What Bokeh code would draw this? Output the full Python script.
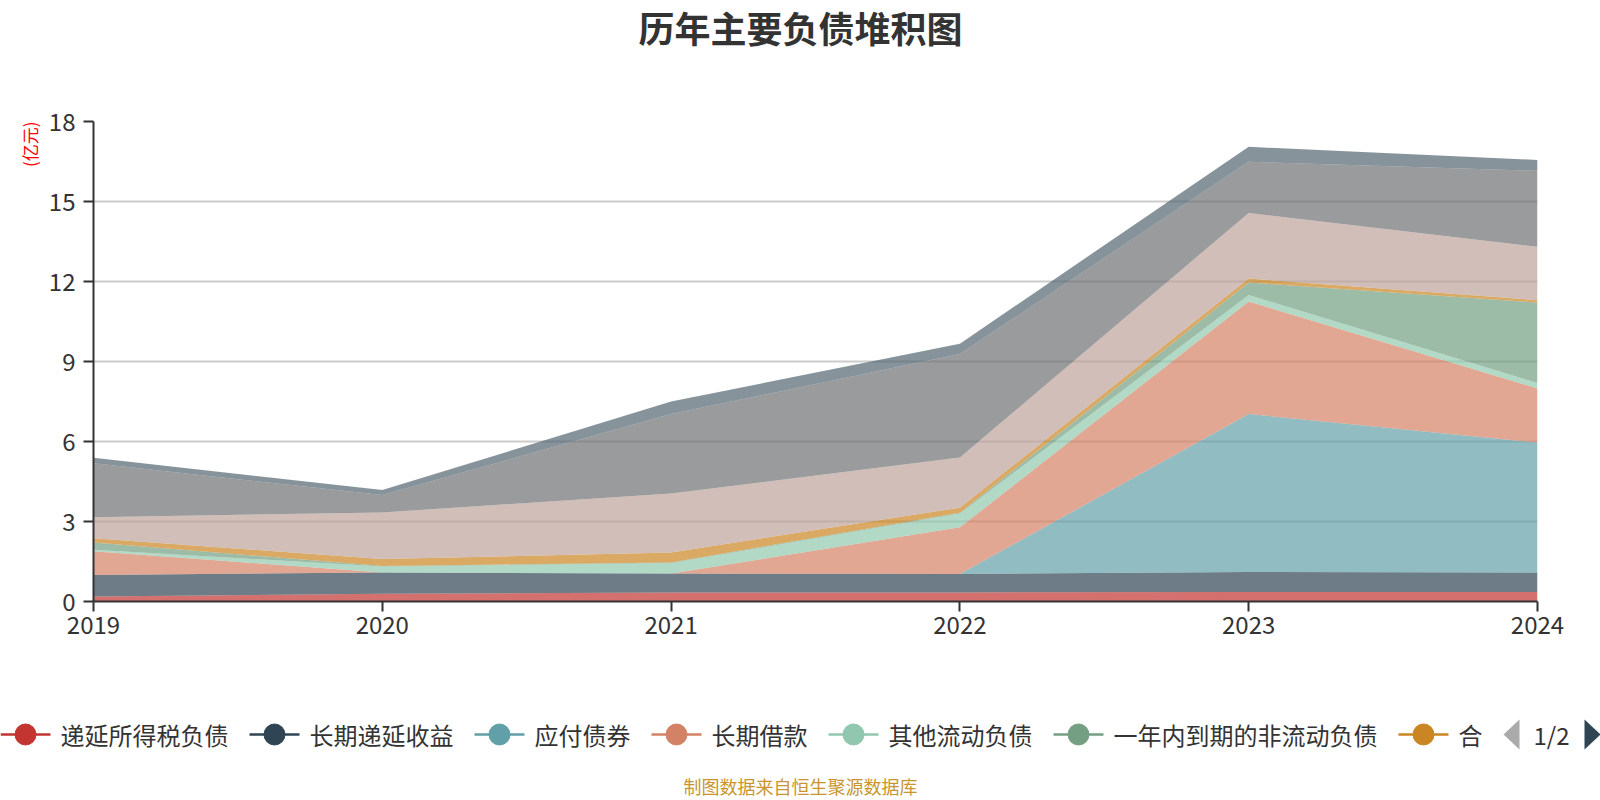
from bokeh.plotting import figure
from bokeh.models import Range1d, FixedTicker, Title, ColumnDataSource
from bokeh.layouts import column
from bokeh.core.properties import value
from bokeh.embed import file_html
from bokeh.resources import INLINE

# ---------------- data (亿元) ----------------
years = [2019, 2020, 2021, 2022, 2023, 2024]
series_names = ["递延所得税负债", "长期递延收益", "应付债券", "长期借款", "其他流动负债",
                "一年内到期的非流动负债", "合同负债", "应付账款", "应付票据", "短期借款"]
deferred_tax = [0.19, 0.29, 0.34, 0.34, 0.36, 0.36]
deferred_income = [0.80, 0.80, 0.71, 0.69, 0.75, 0.73]
bonds_payable = [0.00, 0.00, 0.00, 0.00, 5.92, 4.87]
long_term_loans = [0.89, 0.00, 0.00, 1.75, 4.22, 2.03]
other_current = [0.06, 0.22, 0.39, 0.52, 0.24, 0.20]
noncurrent_due = [0.27, 0.02, 0.02, 0.03, 0.47, 3.02]
contract_liab = [0.16, 0.26, 0.38, 0.19, 0.15, 0.09]
accounts_payable = [0.79, 1.75, 2.21, 1.88, 2.46, 2.00]
notes_payable = [2.02, 0.65, 2.98, 3.88, 1.92, 2.85]
short_term_loans = [0.21, 0.19, 0.47, 0.39, 0.56, 0.41]
y_ticks = [0, 3, 6, 9, 12, 15, 18]
legend_page_count = 7          # items visible on legend page 1
title_text = "历年主要负债堆积图"
unit_text = "(亿元)"
footer_text = "制图数据来自恒生聚源数据库"
pager_text = "1/2"

series_values = [deferred_tax, deferred_income, bonds_payable, long_term_loans, other_current,
                 noncurrent_due, contract_liab, accounts_payable, notes_payable, short_term_loans]
palette = ["#c23531", "#2f4554", "#61a0a8", "#d48265", "#91c7ae",
           "#749f83", "#ca8622", "#bda29a", "#6e7074", "#546570"]

FONT = "Noto Sans CJK SC"
W = 1600
TOP_H = 64
MAIN_H = 624
BOT_H = 800 - TOP_H - MAIN_H
FRAME_L, FRAME_R, FRAME_T, FRAME_B = 93, 1537, 121, 601   # page pixels of the plot frame


def strip(h):
    f = figure(width=W, height=h, output_backend="svg", toolbar_location=None,
               x_range=Range1d(0, W), y_range=Range1d(0, h),
               x_axis_type=None, y_axis_type=None,
               min_border_left=0, min_border_right=0, min_border_top=0, min_border_bottom=0)
    f.outline_line_color = None
    f.grid.visible = False
    f.frame_align = False
    return f


# ---------------- title strip ----------------
t = strip(TOP_H)
t.text(x=[W / 2], y=[TOP_H - 26], text=[title_text], text_font=value(FONT),
       text_font_size="36px", text_font_style="bold", text_color="#333333",
       text_align="center", text_baseline="middle")

# ---------------- main chart ----------------
PAGE_MAIN_TOP = TOP_H
p = figure(width=W, height=MAIN_H, output_backend="svg", toolbar_location=None,
           x_range=Range1d(years[0], years[-1]), y_range=Range1d(y_ticks[0], y_ticks[-1]),
           min_border_left=FRAME_L, min_border_right=W - FRAME_R,
           min_border_top=FRAME_T - PAGE_MAIN_TOP,
           min_border_bottom=PAGE_MAIN_TOP + MAIN_H - FRAME_B)
p.outline_line_color = None
p.frame_align = False

data = {"year": years}
for n, v in zip(series_names, series_values):
    data[n] = v
src = ColumnDataSource(data)
p.varea_stack(stackers=series_names, x="year", color=palette, fill_alpha=0.7, source=src)

p.xgrid.visible = False
p.ygrid.grid_line_color = "#cccccc"
p.ygrid.grid_line_width = 2

p.yaxis.ticker = FixedTicker(ticks=y_ticks)
p.xaxis.ticker = FixedTicker(ticks=years)
for ax in (p.xaxis, p.yaxis):
    ax.axis_line_color = "#333333"
    ax.axis_line_width = 2
    ax.major_tick_line_color = "#333333"
    ax.major_tick_line_width = 2
    ax.major_tick_out = 10
    ax.major_tick_in = 0
    ax.minor_tick_line_color = None
    ax.major_label_text_font = FONT
    ax.major_label_text_font_size = "24px"
    ax.major_label_text_color = "#333333"
p.yaxis.major_label_standoff = 8
p.xaxis.major_label_standoff = 4

p.add_layout(Title(text=unit_text, align="right", standoff=7, text_font=FONT,
                   text_font_size="17px", text_font_style="normal", text_color="#ff0000"), "left")

# ---------------- legend + footer strip ----------------
s = strip(BOT_H)
PAGE_BOT_TOP = PAGE_MAIN_TOP + MAIN_H


def cy(page_y):
    return BOT_H - (page_y - PAGE_BOT_TOP)


LEG_Y = cy(734)
ICON_W = 50
STANDOFF = 10
GAP = 21
CHAR = 24
seg_x0, seg_x1, dot_x, txt_x, cols, labels = [], [], [], [], [], []
start = 0
for n, c in zip(series_names[:legend_page_count], palette[:legend_page_count]):
    seg_x0.append(start)
    seg_x1.append(start + ICON_W)
    dot_x.append(start + ICON_W / 2)
    txt_x.append(start + ICON_W + STANDOFF)
    cols.append(c)
    labels.append(n)
    start = start + ICON_W + STANDOFF + CHAR * len(n) + GAP

lsrc = ColumnDataSource(dict(x0=seg_x0, x1=seg_x1, xd=dot_x, xt=txt_x,
                             y=[LEG_Y] * len(labels), c=cols, t=labels))
s.segment(x0="x0", y0="y", x1="x1", y1="y", line_color="c", line_width=2.5, source=lsrc)
s.scatter(x="xd", y="y", size=21, fill_color="c", line_color="c", source=lsrc)
s.text(x="xt", y="y", text="t", text_font=value(FONT), text_font_size="24px",
       text_color="#333333", text_baseline="middle", text_align="left", source=lsrc)

# scroll-legend clip (only the first character of the last visible label shows) and pager
clip_left = txt_x[-1] + CHAR + 1
s.quad(left=clip_left, right=W, bottom=cy(762), top=cy(706), fill_color="white", line_color=None)
AR_H = 30
AR_W = 16
lx, rx = 1503, 1584
s.patches(xs=[[lx, lx + AR_W, lx + AR_W], [rx, rx + AR_W, rx]],
          ys=[[LEG_Y, LEG_Y + AR_H / 2, LEG_Y - AR_H / 2], [LEG_Y + AR_H / 2, LEG_Y, LEG_Y - AR_H / 2]],
          fill_color=["#aaaaaa", "#2f4554"], line_color=None)
s.text(x=[1551], y=[LEG_Y], text=[pager_text], text_font=value(FONT), text_font_size="24px",
       text_color="#333333", text_baseline="middle", text_align="center")

s.text(x=[W / 2], y=[cy(785)], text=[footer_text], text_font=value(FONT), text_font_size="18px",
       text_color="#c8962e", text_baseline="middle", text_align="center")

layout = column(t, p, s, spacing=0)
open("out.html", "w").write(file_html(layout, INLINE))
